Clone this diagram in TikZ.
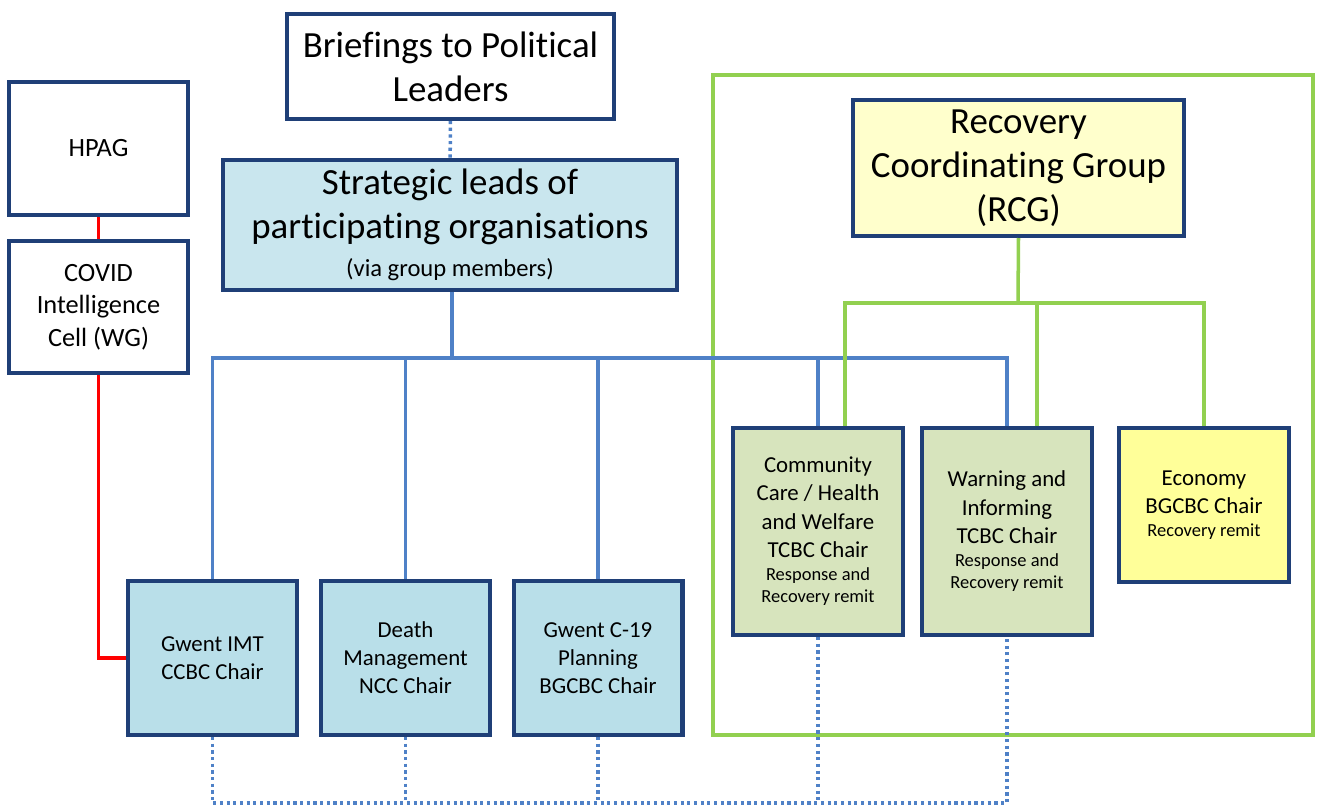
\documentclass[tikz,border=0pt]{standalone}
\usepackage{fontspec}
\setmainfont{Carlito}[Ligatures=NoCommon]
\usetikzlibrary{positioning}
\definecolor{N1}{HTML}{1F3F77}
\definecolor{B1}{HTML}{B9DFE9}
\definecolor{B2}{HTML}{C9E6EE}
\definecolor{G1}{HTML}{D7E4BD}
\definecolor{Y1}{HTML}{FFFF99}
\definecolor{Y2}{HTML}{FFFFCC}
\definecolor{L1}{HTML}{4F81C7}
\definecolor{L2}{HTML}{92D050}
\newcommand{\bigtxt}{\fontsize{21}{25}\selectfont}
\newcommand{\midtxt}{\fontsize{15}{18.5}\selectfont}
\newcommand{\smtxt}{\fontsize{13}{16}\selectfont}
\newcommand{\tinytxt}{\fontsize{10.5}{13}\selectfont}

\begin{document}
\begin{tikzpicture}[
	x=0.02cm, y=-0.02cm,
	vertex/.style = {draw=N1, rectangle, align=center, line width=2.3pt, inner sep=2pt},
	wvertex/.style = {vertex, fill=white},
	bvertex/.style = {vertex, fill=B1, font=\smtxt, minimum width=3.38cm, minimum height=3.08cm},
	gvertex/.style = {vertex, fill=G1, font=\smtxt, minimum width=3.4cm, minimum height=4.14cm},
	blueline/.style = {draw=L1, line width=2pt},
	greenline/.style = {draw=L2, line width=2pt},
	redline/.style = {draw=red, line width=2pt},
	dotline/.style = {draw=L1, line width=2pt, dash pattern=on 1.8pt off 2pt}
]
  \useasboundingbox (0,0) rectangle (1319,807);
  % Recovery frame
  \draw[draw=L2, line width=2.4pt] (713,75) rectangle (1313,735);

  % Define vertices
  \node[wvertex, font=\bigtxt, minimum width=6.54cm, minimum height=2.1cm] at (450.5,66.5) (brief) {Briefings to Political\\Leaders};
  \node[wvertex, font=\midtxt, minimum width=3.58cm, minimum height=2.66cm] at (98.5,148.5) (hpag) {HPAG};
  \node[wvertex, font=\midtxt, minimum width=3.58cm, minimum height=2.64cm] at (98.5,307) (covid) {COVID\\Intelligence\\Cell (WG)};
  \node[vertex, fill=B2, font=\bigtxt, minimum width=9.08cm, minimum height=2.6cm] at (450,225) (strat) {Strategic leads of\\participating organisations\\[-3pt]{\fontsize{14}{17}\selectfont (via group members)}};
  \node[vertex, fill=Y2, font=\bigtxt, minimum width=6.62cm, minimum height=2.72cm] at (1018.5,168) (rcg) {Recovery\\Coordinating Group\\(RCG)};
  \node[bvertex] at (212.5,658) (imt) {Gwent IMT\\CCBC Chair};
  \node[bvertex] at (405.5,658) (death) {Death\\Management\\NCC Chair};
  \node[bvertex] at (598,658) (c19) {Gwent C-19\\Planning\\BGCBC Chair};
  \node[gvertex] at (818,531.5) (comm) {Community\\Care / Health\\and Welfare\\TCBC Chair\\[-3pt]{\tinytxt Response and}\\[-3pt]{\tinytxt Recovery remit}};
  \node[gvertex] at (1007,531.5) (warn) {Warning and\\Informing\\TCBC Chair\\[-3pt]{\tinytxt Response and}\\[-3pt]{\tinytxt Recovery remit}};
  \node[vertex, fill=Y1, font=\smtxt, minimum width=3.4cm, minimum height=3.08cm] at (1204,505) (econ) {Economy\\BGCBC Chair\\[-3pt]{\tinytxt Recovery remit}};

  \coordinate (bbus) at (452,358);
  \coordinate (gbus) at (1018,303);
  \coordinate (dbus) at (0,803);

  % Response links
  \draw[blueline] (strat.south -| bbus) -- (bbus);
  \draw[blueline] (bbus) -| (imt.north);
  \draw[blueline] (bbus) -| (death.north);
  \draw[blueline] (bbus) -| (c19.north);
  \draw[blueline] (bbus) -| (comm.north);
  \draw[blueline] (bbus) -| (warn.north);

  % Recovery links
  \draw[greenline] (rcg.south) -- (gbus);
  \draw[greenline] (gbus) -| ([xshift=0.54cm]comm.north);
  \draw[greenline] (gbus) -| ([xshift=0.6cm]warn.north);
  \draw[greenline] (gbus) -| (econ.north);

  % Intelligence links
  \draw[redline] (hpag) -- (covid);
  \draw[redline] (covid.south) |- (imt.west);

  % Dotted links
  \draw[dotline] (brief) -- (strat);
  \draw[dotline] (imt.south) -- (imt.south |- dbus) -- (warn.south |- dbus) -- (warn.south);
  \draw[dotline] (death.south) -- (death.south |- dbus);
  \draw[dotline] (c19.south) -- (c19.south |- dbus);
  \draw[dotline] (comm.south) -- (comm.south |- dbus);
\end{tikzpicture}
\end{document}
